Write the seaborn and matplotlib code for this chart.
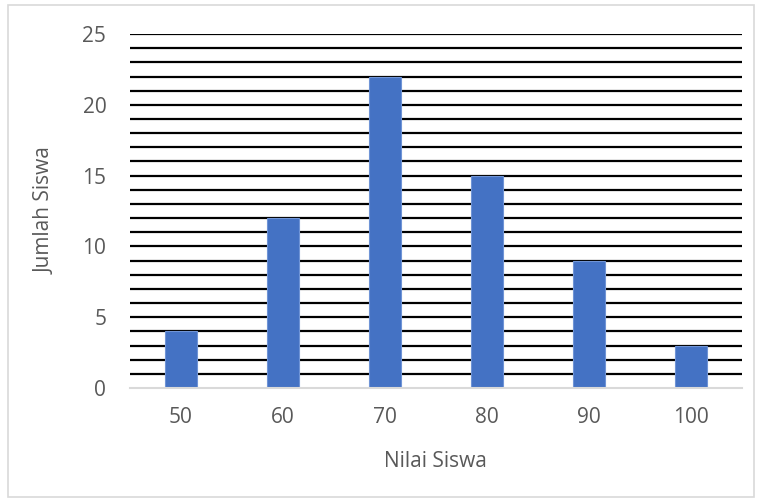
import matplotlib
matplotlib.use("Agg")
import matplotlib.pyplot as plt
import seaborn as sns
import pandas as pd
from matplotlib.patches import Rectangle

# --- Data ---
nilai = ["50", "60", "70", "80", "90", "100"]
jumlah = [4, 12, 22, 15, 9, 3]
y_ticks = [0, 5, 10, 15, 20, 25]

df = pd.DataFrame({"Nilai Siswa": nilai, "Jumlah Siswa": jumlah})

sns.set_style("white")
plt.rcParams["font.family"] = ["Open Sans", "DejaVu Sans"]
text_color = "#595959"

fig = plt.figure(figsize=(7.6, 5.01), dpi=100)
ax = fig.add_axes([0.171, 0.2255, 0.805, 0.7065])

# --- Gridlines tiap 1 unit ---
for v in range(1, 26):
    ax.axhline(v, color="black", lw=1.6, zorder=0)

sns.barplot(data=df, x="Nilai Siswa", y="Jumlah Siswa", color="#4472C4",
            width=0.31, saturation=1, ax=ax, zorder=2,
            edgecolor="#6f94d6", linewidth=0.8)

ax.set_ylim(0, 25)
ax.set_xlim(-0.5, len(nilai) - 0.5)
ax.set_yticks(y_ticks)
ax.tick_params(axis="both", length=0, labelsize=15, labelcolor=text_color)
ax.tick_params(axis="x", pad=14)
ax.tick_params(axis="y", pad=17)
ax.set_xlabel("Nilai Siswa", fontsize=15, color=text_color, labelpad=16)
ax.set_ylabel("Jumlah Siswa", fontsize=15, color=text_color, labelpad=19)

for s in ["top", "right", "left"]:
    ax.spines[s].set_visible(False)
ax.spines["bottom"].set_color("#d9d9d9")
ax.spines["bottom"].set_linewidth(1.5)

# --- Bingkai chart ---
fig.patches.append(Rectangle((8 / 760, 4 / 501), 746 / 760, 492 / 501,
                             transform=fig.transFigure, fill=False,
                             edgecolor="#d9d9d9", lw=1.2))

fig.savefig("out.png", dpi=100)
